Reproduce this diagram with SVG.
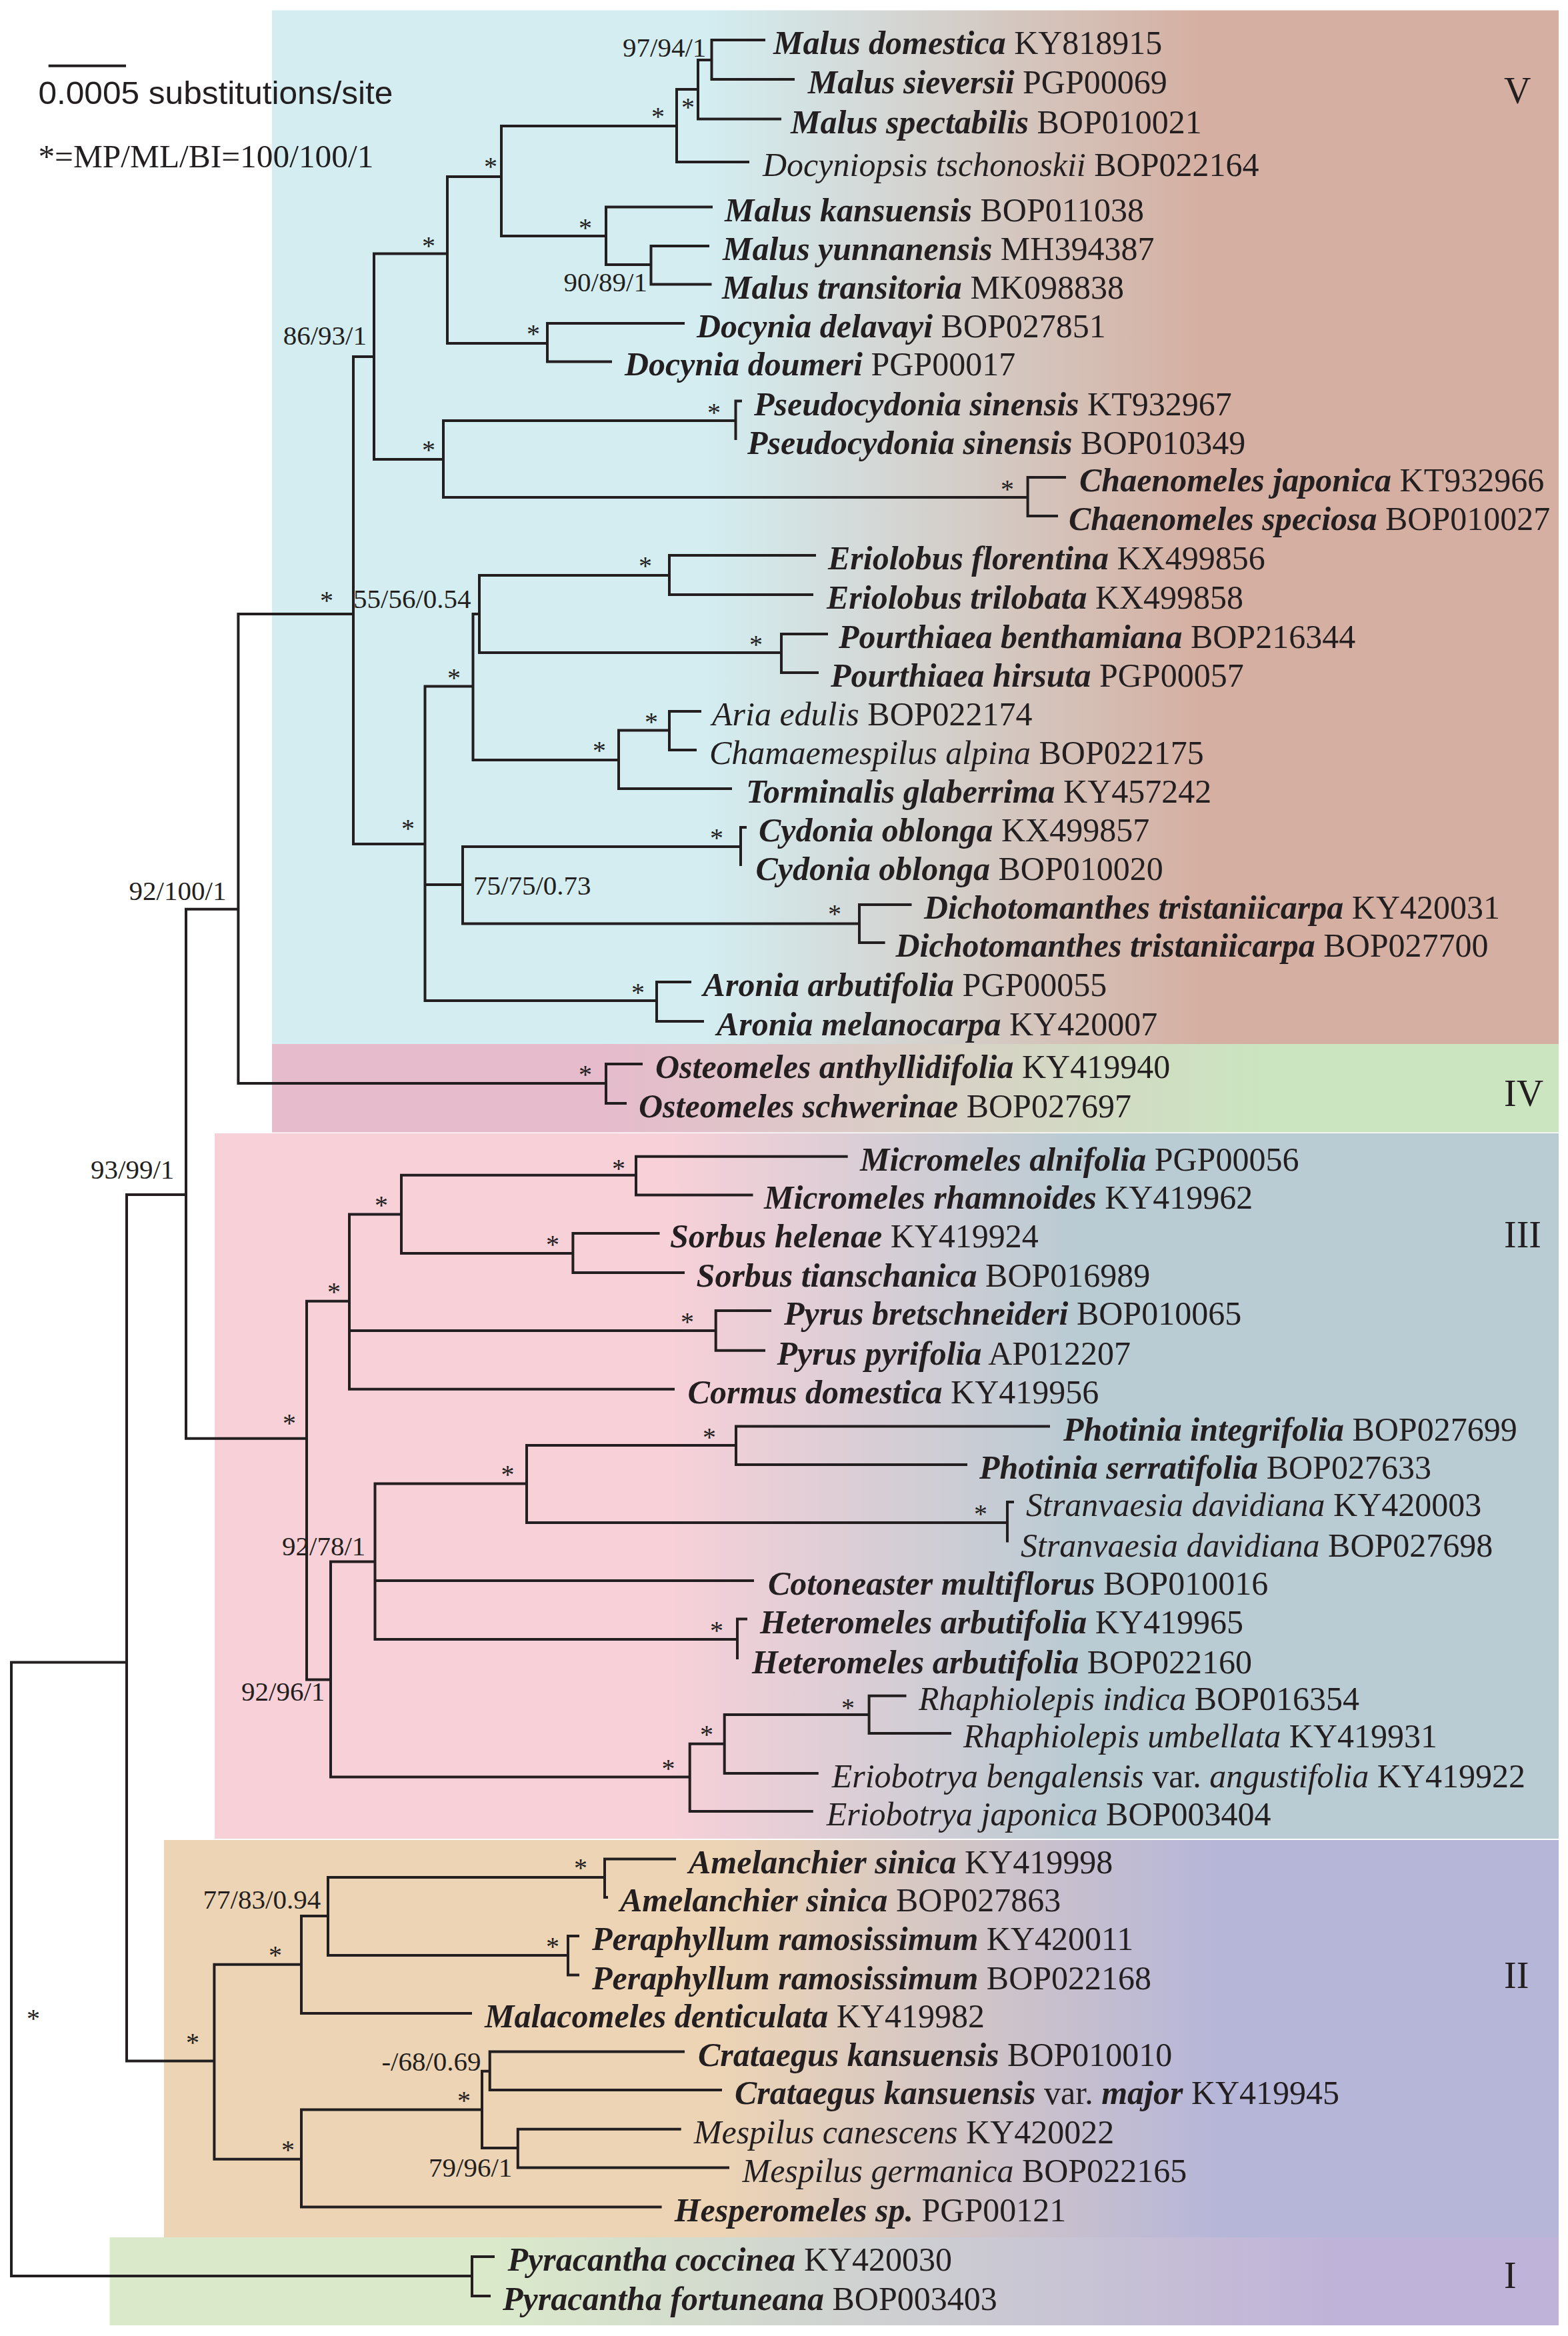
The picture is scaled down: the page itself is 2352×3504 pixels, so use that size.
<svg xmlns="http://www.w3.org/2000/svg" width="2352" height="3504" viewBox="0 0 2352 3504">
<style>
.br{fill:none;stroke:#231f20;stroke-width:4;stroke-linejoin:miter}
.t{font-family:"Liberation Serif","Times New Roman",serif;fill:#231f20}
.leaf{font-size:50px}
.bi{font-weight:bold;font-style:italic}
.i{font-style:italic}
.sup{font-size:41px}
.star{font-size:40px;text-anchor:middle}
.clade{font-size:56px}
</style>
<defs>
<linearGradient id="gV" gradientUnits="userSpaceOnUse" x1="1060" y1="0" x2="1800" y2="0"><stop offset="0" stop-color="#d3edf1"/><stop offset="1" stop-color="#d5b0a2"/></linearGradient>
<linearGradient id="gIV" gradientUnits="userSpaceOnUse" x1="900" y1="0" x2="1900" y2="0"><stop offset="0" stop-color="#e6bbcc"/><stop offset="1" stop-color="#cbe5c0"/></linearGradient>
<linearGradient id="gIII" gradientUnits="userSpaceOnUse" x1="1000" y1="0" x2="1620" y2="0"><stop offset="0" stop-color="#f8d0d8"/><stop offset="1" stop-color="#b9cbd3"/></linearGradient>
<linearGradient id="gII" gradientUnits="userSpaceOnUse" x1="1070" y1="0" x2="1830" y2="0"><stop offset="0" stop-color="#edd4b4"/><stop offset="1" stop-color="#b6b6d9"/></linearGradient>
<linearGradient id="gI" gradientUnits="userSpaceOnUse" x1="740" y1="0" x2="2000" y2="0"><stop offset="0" stop-color="#dae9ca"/><stop offset="1" stop-color="#c0b3d9"/></linearGradient>
</defs>
<rect width="2352" height="3504" fill="#ffffff"/>
<g id="clade-boxes">
<rect id="box-V" x="408" y="15.5" width="1930" height="1550.5" fill="url(#gV)"/>
<rect id="box-IV" x="408" y="1566" width="1930" height="132.5" fill="url(#gIV)"/>
<rect id="box-III" x="322" y="1700" width="2016" height="1058" fill="url(#gIII)"/>
<rect id="box-II" x="246" y="2760" width="2092" height="596" fill="url(#gII)"/>
<rect id="box-I" x="164.5" y="3356" width="2173.5" height="132" fill="url(#gI)"/>
</g>
<g id="legend">
<path class="br" d="M72.7 98.7 H189"/>
<text x="57.4" y="156" font-family="Liberation Sans, Arial, sans-serif" font-size="48" fill="#231f20" textLength="532" lengthAdjust="spacingAndGlyphs">0.0005 substitutions/site</text>
<text class="t" x="57.4" y="250.8" font-size="48" textLength="503" lengthAdjust="spacingAndGlyphs">*=MP/ML/BI=100/100/1</text>
</g>
<g id="connectors">
<path class="br" d="M1148 60 H1067.5 V119 H1192"/>
<path class="br" d="M1067.5 90 H1047 V178.5 H1172"/>
<path class="br" d="M1047 134 H1015 V243 H1124"/>
<path class="br" d="M1064 369 H976.5 V426.5 H1067.5"/>
<path class="br" d="M1069 310.5 H909 V397 H976.5"/>
<path class="br" d="M1015 189 H752 V354 H909"/>
<path class="br" d="M1027 485 H821 V542.4 H918"/>
<path class="br" d="M752 265 H671 V515 H821"/>
<path class="br" d="M1113 601.5 H1103.5 V660"/>
<path class="br" d="M1599 716 H1541.6 V774 H1587"/>
<path class="br" d="M1103.5 631 H665 V746 H1541.6"/>
<path class="br" d="M671 380.6 H561 V689 H665"/>
<path class="br" d="M1224 833 H1004 V892 H1220"/>
<path class="br" d="M1242 951 H1172 V1009 H1228"/>
<path class="br" d="M1004 863 H719 V979 H1172"/>
<path class="br" d="M1052 1067 H1004 V1125 H1045"/>
<path class="br" d="M1004 1095.6 H928 V1183 H1098"/>
<path class="br" d="M719 921 H709.5 V1140 H928"/>
<path class="br" d="M1120 1241 H1111 V1299"/>
<path class="br" d="M1367.5 1357 H1289 V1414 H1327.6"/>
<path class="br" d="M1111 1270 H694 V1385.5 H1289"/>
<path class="br" d="M1037 1473 H985 V1532 H1056"/>
<path class="br" d="M709.5 1029.6 H637.5 V1501 H985 M637.5 1327 H694"/>
<path class="br" d="M561 535 H530 V1266 H637.5"/>
<path class="br" d="M964 1596 H909 V1655 H940"/>
<path class="br" d="M530 921 H357.4 V1625 H909"/>
<path class="br" d="M1271.7 1734.8 H954 V1792.4 H1129.5"/>
<path class="br" d="M989.5 1850 H859.4 V1909 H1027"/>
<path class="br" d="M954 1762.7 H602 V1880 H859.4"/>
<path class="br" d="M1157 1966 H1073.7 V2025.7 H1148"/>
<path class="br" d="M602 1821.5 H524 V2083.8 H1012 M524 1996 H1073.7"/>
<path class="br" d="M1575 2139.6 H1104 V2197 H1451"/>
<path class="br" d="M1521 2253 H1511 V2313.5"/>
<path class="br" d="M1104 2168 H790 V2284 H1511"/>
<path class="br" d="M1121 2428.6 H1106 V2489"/>
<path class="br" d="M790 2225.6 H562.5 V2459 H1106 M562.5 2371 H1131"/>
<path class="br" d="M1359.5 2543.7 H1303.6 V2600 H1427"/>
<path class="br" d="M1303.6 2572 H1086.7 V2660 H1227.8"/>
<path class="br" d="M1086.7 2615.7 H1034.7 V2717 H1219.8"/>
<path class="br" d="M562.5 2342.5 H496 V2665.6 H1034.7"/>
<path class="br" d="M524 1951.7 H460 V2519.5 H496"/>
<path class="br" d="M357.4 1363.7 H279 V2157.8 H460"/>
<path class="br" d="M1014 2788.5 H907 V2846 H912"/>
<path class="br" d="M869 2904 H852 V2962.5 H869"/>
<path class="br" d="M907 2816 H492 V2933 H852"/>
<path class="br" d="M492 2874 H452 V3020 H708"/>
<path class="br" d="M1027 3077.5 H734.7 V3135 H1083"/>
<path class="br" d="M1021.7 3193.7 H776.8 V3251.5 H1094"/>
<path class="br" d="M734.7 3106.7 H723 V3222 H776.8"/>
<path class="br" d="M723 3164.5 H452 V3310.5 H992.6"/>
<path class="br" d="M452 2946.7 H321.4 V3238.7 H452"/>
<path class="br" d="M279 1792 H190 V3091.5 H321.4"/>
<path class="br" d="M742 3385 H708 V3444 H736"/>
<path class="br" d="M190 2493.4 H17 V3414 H708"/>
</g>
<g id="support" class="t">
<g class="sup">
<text x="934" y="85">97/94/1</text>
<text x="845.6" y="437">90/89/1</text>
<text x="424.7" y="517">86/93/1</text>
<text x="530" y="912">55/56/0.54</text>
<text x="710" y="1342">75/75/0.73</text>
<text x="193.6" y="1350">92/100/1</text>
<text x="136" y="1768">93/99/1</text>
<text x="423" y="2333">92/78/1</text>
<text x="362" y="2551">92/96/1</text>
<text x="304.6" y="2863">77/83/0.94</text>
<text x="572.4" y="3106">-/68/0.69</text>
<text x="643" y="3265">79/96/1</text>
</g>
<g class="star">
<text x="987" y="188">*</text>
<text x="1032" y="174">*</text>
<text x="736" y="263">*</text>
<text x="878" y="355">*</text>
<text x="643" y="382">*</text>
<text x="800" y="514">*</text>
<text x="643" y="688">*</text>
<text x="1071" y="632">*</text>
<text x="1511" y="747">*</text>
<text x="490" y="914">*</text>
<text x="681" y="1030">*</text>
<text x="968" y="862">*</text>
<text x="1134" y="980">*</text>
<text x="977" y="1096">*</text>
<text x="899" y="1139">*</text>
<text x="612" y="1256">*</text>
<text x="1075" y="1270">*</text>
<text x="1252" y="1384">*</text>
<text x="957" y="1502">*</text>
<text x="878" y="1625">*</text>
<text x="434" y="2148">*</text>
<text x="501" y="1951">*</text>
<text x="572" y="1820.5">*</text>
<text x="928" y="1766">*</text>
<text x="829" y="1880">*</text>
<text x="1031" y="1996">*</text>
<text x="761.5" y="2225">*</text>
<text x="1064" y="2169">*</text>
<text x="1471" y="2284">*</text>
<text x="1075" y="2458.5">*</text>
<text x="1002.5" y="2666">*</text>
<text x="1060" y="2614.6">*</text>
<text x="1272" y="2575">*</text>
<text x="50" y="3040.5">*</text>
<text x="289" y="3077">*</text>
<text x="413" y="2946">*</text>
<text x="871" y="2815">*</text>
<text x="829" y="2933">*</text>
<text x="432" y="3238">*</text>
<text x="696" y="3164">*</text>
</g>
</g>
<g id="taxa" class="t leaf">
<g id="t01"><text x="1160" y="81"><tspan class="bi">Malus domestica</tspan> KY818915</text></g>
<g id="t02"><text x="1211.8" y="140"><tspan class="bi">Malus sieversii</tspan> PGP00069</text></g>
<g id="t03"><text x="1186" y="199.5"><tspan class="bi">Malus spectabilis</tspan> BOP010021</text></g>
<g id="t04"><text x="1144" y="264"><tspan class="i">Docyniopsis tschonoskii</tspan> BOP022164</text></g>
<g id="t05"><text x="1087" y="331.5"><tspan class="bi">Malus kansuensis</tspan> BOP011038</text></g>
<g id="t06"><text x="1084" y="390"><tspan class="bi">Malus yunnanensis</tspan> MH394387</text></g>
<g id="t07"><text x="1083" y="447.5"><tspan class="bi">Malus transitoria</tspan> MK098838</text></g>
<g id="t08"><text x="1045" y="506"><tspan class="bi">Docynia delavayi</tspan> BOP027851</text></g>
<g id="t09"><text x="937" y="563.4"><tspan class="bi">Docynia doumeri</tspan> PGP00017</text></g>
<g id="t10"><text x="1131" y="622.5"><tspan class="bi">Pseudocydonia sinensis</tspan> KT932967</text></g>
<g id="t11"><text x="1121" y="681"><tspan class="bi">Pseudocydonia sinensis</tspan> BOP010349</text></g>
<g id="t12"><text x="1619" y="737"><tspan class="bi">Chaenomeles japonica</tspan> KT932966</text></g>
<g id="t13"><text x="1603" y="795"><tspan class="bi">Chaenomeles speciosa</tspan> BOP010027</text></g>
<g id="t14"><text x="1242" y="854"><tspan class="bi">Eriolobus florentina</tspan> KX499856</text></g>
<g id="t15"><text x="1240" y="913"><tspan class="bi">Eriolobus trilobata</tspan> KX499858</text></g>
<g id="t16"><text x="1258" y="972"><tspan class="bi">Pourthiaea benthamiana</tspan> BOP216344</text></g>
<g id="t17"><text x="1246" y="1030"><tspan class="bi">Pourthiaea hirsuta</tspan> PGP00057</text></g>
<g id="t18"><text x="1068" y="1088"><tspan class="i">Aria edulis</tspan> BOP022174</text></g>
<g id="t19"><text x="1064" y="1146"><tspan class="i">Chamaemespilus alpina</tspan> BOP022175</text></g>
<g id="t20"><text x="1119" y="1204"><tspan class="bi">Torminalis glaberrima</tspan> KY457242</text></g>
<g id="t21"><text x="1138" y="1262"><tspan class="bi">Cydonia oblonga</tspan> KX499857</text></g>
<g id="t22"><text x="1133.5" y="1320"><tspan class="bi">Cydonia oblonga</tspan> BOP010020</text></g>
<g id="t23"><text x="1386" y="1378"><tspan class="bi">Dichotomanthes tristaniicarpa</tspan> KY420031</text></g>
<g id="t24"><text x="1343.5" y="1435"><tspan class="bi">Dichotomanthes tristaniicarpa</tspan> BOP027700</text></g>
<g id="t25"><text x="1054.6" y="1494"><tspan class="bi">Aronia arbutifolia</tspan> PGP00055</text></g>
<g id="t26"><text x="1075" y="1553"><tspan class="bi">Aronia melanocarpa</tspan> KY420007</text></g>
<g id="t27"><text x="983" y="1617"><tspan class="bi">Osteomeles anthyllidifolia</tspan> KY419940</text></g>
<g id="t28"><text x="958" y="1676"><tspan class="bi">Osteomeles schwerinae</tspan> BOP027697</text></g>
<g id="t29"><text x="1290" y="1756"><tspan class="bi">Micromeles alnifolia</tspan> PGP00056</text></g>
<g id="t30"><text x="1146" y="1813.4"><tspan class="bi">Micromeles rhamnoides</tspan> KY419962</text></g>
<g id="t31"><text x="1005" y="1871"><tspan class="bi">Sorbus helenae</tspan> KY419924</text></g>
<g id="t32"><text x="1044.6" y="1930"><tspan class="bi">Sorbus tianschanica</tspan> BOP016989</text></g>
<g id="t33"><text x="1176" y="1987"><tspan class="bi">Pyrus bretschneideri</tspan> BOP010065</text></g>
<g id="t34"><text x="1165.5" y="2046.7"><tspan class="bi">Pyrus pyrifolia</tspan> AP012207</text></g>
<g id="t35"><text x="1031.6" y="2104.8"><tspan class="bi">Cormus domestica</tspan> KY419956</text></g>
<g id="t36"><text x="1595" y="2160.6"><tspan class="bi">Photinia integrifolia</tspan> BOP027699</text></g>
<g id="t37"><text x="1469" y="2218"><tspan class="bi">Photinia serratifolia</tspan> BOP027633</text></g>
<g id="t38"><text x="1539" y="2274"><tspan class="i">Stranvaesia davidiana</tspan> KY420003</text></g>
<g id="t39"><text x="1531" y="2334.5"><tspan class="i">Stranvaesia davidiana</tspan> BOP027698</text></g>
<g id="t40"><text x="1152" y="2392"><tspan class="bi">Cotoneaster multiflorus</tspan> BOP010016</text></g>
<g id="t41"><text x="1140" y="2449.6"><tspan class="bi">Heteromeles arbutifolia</tspan> KY419965</text></g>
<g id="t42"><text x="1128" y="2510"><tspan class="bi">Heteromeles arbutifolia</tspan> BOP022160</text></g>
<g id="t43"><text x="1378" y="2564.7"><tspan class="i">Rhaphiolepis indica</tspan> BOP016354</text></g>
<g id="t44"><text x="1445" y="2621"><tspan class="i">Rhaphiolepis umbellata</tspan> KY419931</text></g>
<g id="t45"><text x="1247.7" y="2681"><tspan class="i">Eriobotrya bengalensis</tspan> var. <tspan class="i">angustifolia</tspan> KY419922</text></g>
<g id="t46"><text x="1239.7" y="2738"><tspan class="i">Eriobotrya japonica</tspan> BOP003404</text></g>
<g id="t47"><text x="1033" y="2809.5"><tspan class="bi">Amelanchier sinica</tspan> KY419998</text></g>
<g id="t48"><text x="930" y="2867"><tspan class="bi">Amelanchier sinica</tspan> BOP027863</text></g>
<g id="t49"><text x="888" y="2925"><tspan class="bi">Peraphyllum ramosissimum</tspan> KY420011</text></g>
<g id="t50"><text x="888" y="2983.5"><tspan class="bi">Peraphyllum ramosissimum</tspan> BOP022168</text></g>
<g id="t51"><text x="727" y="3041"><tspan class="bi">Malacomeles denticulata</tspan> KY419982</text></g>
<g id="t52"><text x="1047" y="3098.5"><tspan class="bi">Crataegus kansuensis</tspan> BOP010010</text></g>
<g id="t53"><text x="1102" y="3156"><tspan class="bi">Crataegus kansuensis</tspan> var. <tspan class="bi">major</tspan> KY419945</text></g>
<g id="t54"><text x="1040.8" y="3214.7"><tspan class="i">Mespilus canescens</tspan> KY420022</text></g>
<g id="t55"><text x="1113.5" y="3272.5"><tspan class="i">Mespilus germanica</tspan> BOP022165</text></g>
<g id="t56"><text x="1011.7" y="3331.5"><tspan class="bi">Hesperomeles sp.</tspan> PGP00121</text></g>
<g id="t57"><text x="761.5" y="3406"><tspan class="bi">Pyracantha coccinea</tspan> KY420030</text></g>
<g id="t58"><text x="754" y="3465"><tspan class="bi">Pyracantha fortuneana</tspan> BOP003403</text></g>
</g>
<g id="clade-labels" class="t clade">
<text x="2256" y="155">V</text>
<text x="2256" y="1659">IV</text>
<text x="2256" y="1871">III</text>
<text x="2256" y="2982">II</text>
<text x="2256" y="3432">I</text>
</g>
</svg>
